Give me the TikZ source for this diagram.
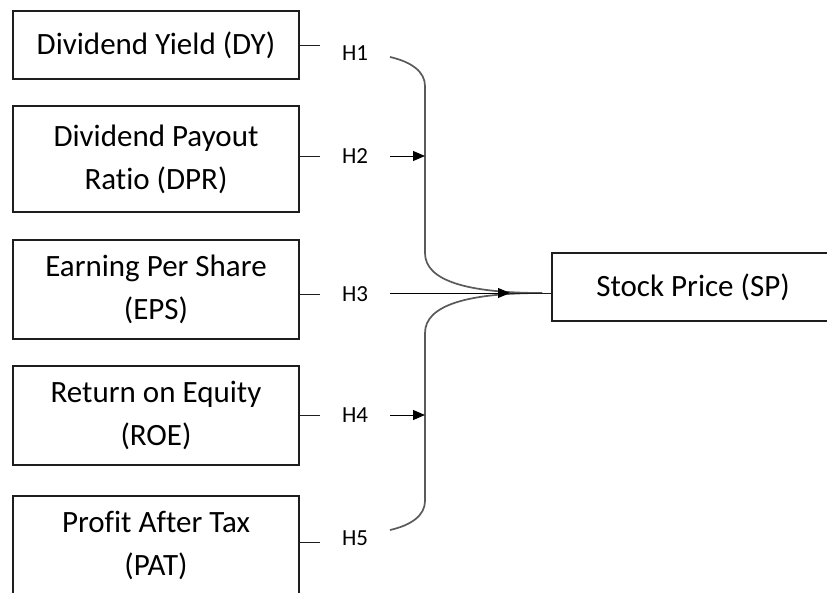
\documentclass[tikz,border=0pt]{standalone}
\usepackage{fontspec}
\setmainfont{Carlito}[Ligatures={NoCommon}]
\usetikzlibrary{arrows.meta}
\definecolor{boxline}{RGB}{30,30,30}
\definecolor{braceline}{RGB}{90,90,90}
\tikzset{
  box/.style={draw=boxline, line width=1.4pt, minimum width=286pt, inner sep=0pt,
    align=center, font=\fontsize{31}{43}\selectfont},
  hlab/.style={minimum width=70pt, inner sep=0pt, font=\fontsize{23}{26}\selectfont},
  link/.style={draw=boxline, line width=1pt},
  brace/.style={draw=braceline, line width=1.7pt},
  arr/.style={draw=black, line width=1pt, -{Triangle[length=12pt,width=10pt]}}
}
\begin{document}
\begin{tikzpicture}[x=1pt,y=-1pt]
\useasboundingbox (0,0) rectangle (827,592);
\clip (0,0) rectangle (827,592);
\fill[white] (0,0) rectangle (827,592);

% boxes
\node[box, minimum height=68pt] (dy) at (156,45) {Dividend Yield (DY)};
\node[box, minimum height=106pt] (dpr) at (156,159) {Dividend Payout\\Ratio (DPR)};
\node[box, minimum height=99pt] (eps) at (156,289.5) {Earning Per Share\\(EPS)};
\node[box, minimum height=99pt] (roe) at (156,415.5) {Return on Equity\\(ROE)};
\node[box, minimum height=99pt] (pat) at (156,545.5) {Profit After Tax\\(PAT)};
\node[box, minimum width=282pt, minimum height=68pt] (sp) at (693,287) {Stock Price (SP)};

% labels
\node[hlab] (h1) at (355,53) {H1};
\node[hlab] (h2) at (355,156) {H2};
\node[hlab] (h3) at (355,294) {H3};
\node[hlab] (h4) at (355,415) {H4};
\node[hlab] (h5) at (355,538) {H5};

% short links from boxes
\draw[link] (dy.east) -- (dy.east -| h1.west);
\draw[link] (dpr.east |- h2) -- (h2.west);
\draw[link] (eps.east |- h3) -- (h3.west);
\draw[link] (roe.east |- h4) -- (h4.west);
\coordinate (l5) at (320,542);
\draw[link] (pat.east |- l5) -- (l5);

% brace
\coordinate (bx) at (425,0);
\coordinate (c1) at (390,57);
\coordinate (c5) at (390,530);
\coordinate (m) at (510,293);
\coordinate (tip) at (542,293);
\draw[brace] (c1) .. controls (412,62) and (425,72) .. (425,86) -- (425,253)
  .. controls (425,281) and (468,293) .. (tip);
\draw[brace] (c5) .. controls (412,525) and (425,515) .. (425,501) -- (425,333)
  .. controls (425,305) and (468,293) .. (tip);

% arrows
\draw[arr] (h2.east) -- (h2.east -| bx);
\draw[arr] (h4.east) -- (h4.east -| bx);
\draw[arr] (h3.east |- m) -- (m);
\draw[link] (m) -- (m -| sp.west);
\end{tikzpicture}
\end{document}
